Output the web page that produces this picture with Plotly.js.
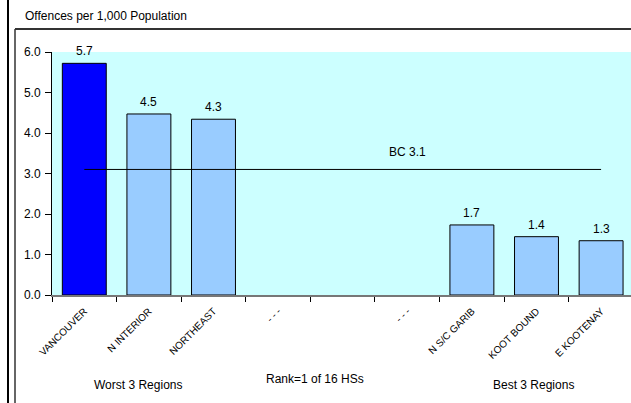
<!DOCTYPE html>
<html>
<head>
<meta charset="utf-8">
<script src="https://cdn.plot.ly/plotly-3.0.1.min.js"></script>
<style>html,body{margin:0;padding:0;background:#fff;}#chart{width:631px;height:403px;}</style>
</head>
<body>
<div id="chart"></div>
<script>
// ---- data ----
var categories = ['VANCOUVER', 'N INTERIOR', 'NORTHEAST', 'gap1', 'gap2', 'gap3', 'N S/C GARIB', 'KOOT BOUND', 'E KOOTENAY'];
var tickLabels = ['VANCOUVER', 'N INTERIOR', 'NORTHEAST', '- - -', '', '- - -', 'N S/C GARIB', 'KOOT BOUND', 'E KOOTENAY'];
var values = [5.72, 4.47, 4.34, null, null, null, 1.73, 1.44, 1.34];
var barColors = ['#0000FF', '#99CCFF', '#99CCFF', '#99CCFF', '#99CCFF', '#99CCFF', '#99CCFF', '#99CCFF', '#99CCFF'];
var bcValue = 3.1;
var bcLabel = 'BC 3.1';
var yTicks = [0, 1, 2, 3, 4, 5, 6];
var chartTitle = 'Offences per 1,000 Population';
var groupLabels = ['Worst 3 Regions', 'Rank=1 of 16 HSs', 'Best 3 Regions'];

// ---- layout helpers (pixel -> paper) ----
var W = 631, H = 403, ML = 52, MR = 0, MT = 52, MB = 108;
var PW = W - ML - MR, PH = H - MT - MB;
function px(x) { return (x - ML) / PW; }
function py(y) { return (H - MB - y) / PH; }

var bars = {
  type: 'bar',
  x: categories,
  y: values,
  width: 0.68,
  marker: { color: barColors, line: { color: '#000', width: 1 } },
  hoverinfo: 'none',
  showlegend: false
};
var bcLine = {
  type: 'scatter',
  mode: 'lines',
  x: [categories[0], categories[categories.length - 1]],
  y: [bcValue, bcValue],
  line: { color: '#000', width: 1 },
  hoverinfo: 'none',
  showlegend: false
};

var annotations = [];
categories.forEach(function (c, i) {
  if (values[i] === null) return;
  annotations.push({
    x: c, y: values[i], xref: 'x', yref: 'y',
    text: values[i].toFixed(1), showarrow: false,
    yanchor: 'bottom', yshift: 3,
    font: { family: 'Arial, Liberation Sans, sans-serif', size: 12, color: '#000' }
  });
});
annotations.push({
  x: categories[5], y: bcValue, xref: 'x', yref: 'y',
  text: bcLabel, showarrow: false, yanchor: 'bottom', yshift: 8,
  font: { family: 'Arial, Liberation Sans, sans-serif', size: 12, color: '#000' }
});
annotations.push({
  x: px(23), y: py(16), xref: 'paper', yref: 'paper', xanchor: 'left', yanchor: 'middle',
  text: chartTitle, showarrow: false,
  font: { family: 'Arial, Liberation Sans, sans-serif', size: 12, color: '#000' }
});
var groupPos = [[138, 385], [315, 379], [533.6, 385]];
groupLabels.forEach(function (t, i) {
  annotations.push({
    x: px(groupPos[i][0]), y: py(groupPos[i][1]), xref: 'paper', yref: 'paper',
    xanchor: 'center', yanchor: 'middle', text: t, showarrow: false,
    font: { family: 'Arial, Liberation Sans, sans-serif', size: 12, color: '#000' }
  });
});

var shapes = [
  { type: 'line', xref: 'paper', yref: 'paper', x0: px(8), x1: px(8), y0: py(403), y1: py(0), line: { color: '#000', width: 2 } },
  { type: 'line', xref: 'paper', yref: 'paper', x0: px(15), x1: px(15), y0: py(403), y1: py(29), line: { color: '#333', width: 1.5 } },
  { type: 'line', xref: 'paper', yref: 'paper', x0: px(15), x1: px(631), y0: py(29), y1: py(29), line: { color: '#333', width: 2 } }
];

var layout = {
  width: W, height: H,
  margin: { l: ML, r: MR, t: MT, b: MB, pad: 0 },
  paper_bgcolor: '#FFFFFF',
  plot_bgcolor: '#CCFFFF',
  showlegend: false,
  font: { family: 'Arial, Liberation Sans, sans-serif', size: 12, color: '#000' },
  xaxis: {
    type: 'category',
    categoryorder: 'array', categoryarray: categories,
    tickvals: categories, ticktext: tickLabels,
    tickson: 'boundaries',
    range: [-0.5, 8.463],
    tickangle: -45,
    ticklabelstandoff: 5,
    ticks: 'outside', ticklen: 5, tickcolor: '#000', tickwidth: 1,
    showline: true, linecolor: '#777', linewidth: 1.5,
    showgrid: false, zeroline: false, fixedrange: true,
    tickfont: { family: 'Arial, Liberation Sans, sans-serif', size: 10, color: '#000' }
  },
  yaxis: {
    range: [0, 6],
    tickvals: yTicks, tickformat: '.1f',
    ticks: 'outside', ticklen: 6, tickcolor: '#000', tickwidth: 1,
    ticklabelstandoff: 2,
    showline: true, linecolor: '#000', linewidth: 1,
    showgrid: false, zeroline: false, fixedrange: true,
    tickfont: { family: 'Arial, Liberation Sans, sans-serif', size: 12, color: '#000' }
  },
  annotations: annotations,
  shapes: shapes
};

Plotly.newPlot('chart', [bars, bcLine], layout, { staticPlot: true, displayModeBar: false });
</script>
</body>
</html>
